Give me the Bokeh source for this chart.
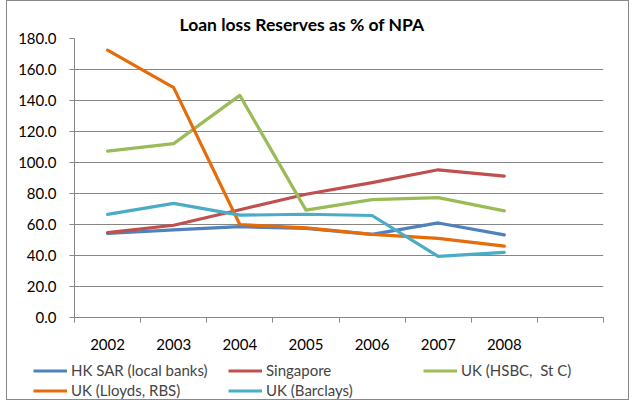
import numpy as np
from bokeh.plotting import figure
from bokeh.layouts import column
from bokeh.models import (Range1d, FixedTicker, NumeralTickFormatter, Legend, LegendItem, Title)
from bokeh.embed import file_html
from bokeh.resources import INLINE

years = ["2002", "2003", "2004", "2005", "2006", "2007", "2008"]
n_slots = 8  # the category axis has one empty slot after 2008

hk_sar = [54.2, 56.5, 58.6, 57.5, 53.6, 61.0, 53.3]
singapore = [54.8, 59.5, 69.5, 79.5, 87.0, 95.3, 91.2]
uk_hsbc_stc = [107.3, 112.2, 143.3, 69.3, 76.0, 77.3, 68.8]
uk_lloyds_rbs = [172.5, 148.3, 60.0, 57.8, 53.6, 51.0, 46.0]
uk_barclays = [66.5, 73.6, 66.0, 66.6, 65.8, 39.4, 42.0]

series_names = ["HK SAR (local banks)", "Singapore", "UK (HSBC,  St C)", "UK (Lloyds, RBS)", "UK (Barclays)"]
series_values = [hk_sar, singapore, uk_hsbc_stc, uk_lloyds_rbs, uk_barclays]
series_colors = ["#4F81BD", "#C0504D", "#9BBB59", "#E46C0A", "#4BACC6"]

y_ticks = [0, 20, 40, 60, 80, 100, 120, 140, 160, 180]

FONT = "Lato"
GRID = "#868686"
LW = 3.2
W = 621

x_pos = np.arange(len(years)) + 0.5

p = figure(width=W, height=356, output_backend="svg", toolbar_location=None,
           x_range=Range1d(0, n_slots), y_range=Range1d(0, 180),
           min_border_left=67, min_border_right=25, min_border_top=37, min_border_bottom=40)
p.outline_line_color = None
p.background_fill_color = "white"
p.border_fill_color = "white"
p.frame_align = False

p.title = Title(text="Loan loss Reserves as % of NPA", align="left", offset=105,
                text_font=FONT, text_font_style="bold", text_font_size="17.5px",
                text_color="black", standoff=8)

# axes
p.xaxis.ticker = FixedTicker(ticks=list(x_pos), minor_ticks=list(range(n_slots + 1)))
p.xaxis.major_label_overrides = {float(x): y for x, y in zip(x_pos, years)}
p.xaxis.major_tick_out = 0
p.xaxis.major_tick_in = 0
p.xaxis.minor_tick_out = 5
p.xaxis.minor_tick_in = 0
p.xaxis.minor_tick_line_color = GRID
p.xaxis.major_label_standoff = 16
p.xgrid.grid_line_color = None

p.yaxis.ticker = FixedTicker(ticks=y_ticks)
p.yaxis.formatter = NumeralTickFormatter(format="0.0")
p.yaxis.major_tick_out = 5
p.yaxis.major_tick_in = 0
p.yaxis.minor_tick_line_color = None
p.yaxis.major_label_standoff = 13
p.ygrid.grid_line_color = GRID
p.ygrid.grid_line_width = 1

for ax in (p.xaxis[0], p.yaxis[0]):
    ax.axis_line_color = GRID
    ax.major_tick_line_color = GRID
    ax.major_label_text_font = FONT
    ax.major_label_text_font_size = "15px"
    ax.major_label_text_color = "black"

for vals, col in zip(series_values, series_colors):
    p.line(x_pos, vals, line_color=col, line_width=LW, line_join="round", line_cap="round")

# legend strip below the chart (its own canvas so nothing gets clipped);
# the series are repeated here only to feed the legend glyphs and fall
# outside this strip's range, so they are not drawn inside it
lg = figure(width=W, height=42, output_backend="svg", toolbar_location=None,
            x_range=Range1d(0, n_slots), y_range=Range1d(-2, -1),
            x_axis_location=None, y_axis_location=None,
            min_border_left=0, min_border_right=0, min_border_top=0, min_border_bottom=0)
lg.outline_line_color = None
lg.grid.grid_line_color = None
lg.background_fill_color = "white"
lg.border_fill_color = "white"
lg.frame_align = False

items = []
for name, vals, col in zip(series_names, series_values, series_colors):
    r = lg.line(x_pos, vals, line_color=col, line_width=LW)
    items.append(LegendItem(label=name, renderers=[r]))

legend = Legend(items=items, orientation="horizontal", ncols=3, location=(26, 0),
                glyph_width=34, glyph_height=17, label_height=17, label_width=155,
                label_standoff=4, spacing=2, padding=0, margin=0,
                label_text_font=FONT, label_text_font_size="15px",
                border_line_color=None, background_fill_alpha=0)
lg.add_layout(legend, "center")

layout = column(p, lg, spacing=0,
                styles={"border": "1px solid #8a8a8a", "margin-left": "6px"})

open("out.html", "w").write(file_html(layout, INLINE))
